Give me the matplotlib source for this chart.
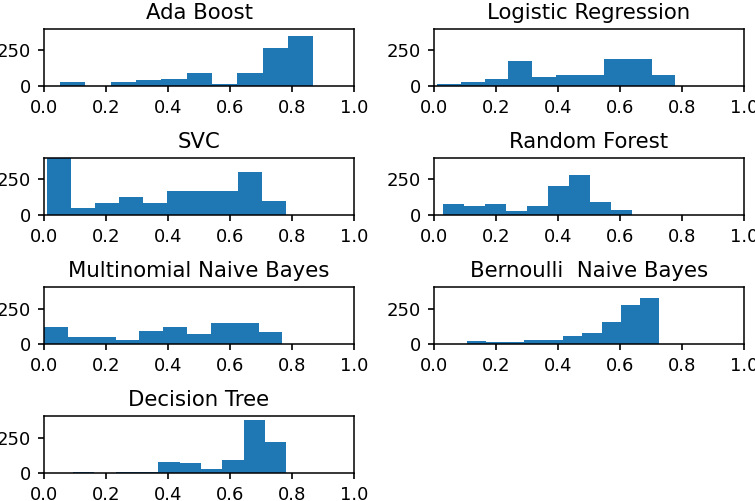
import numpy as np
import matplotlib
matplotlib.use("Agg")
import matplotlib.pyplot as plt

titles = ["Ada Boost", "Logistic Regression", "SVC", "Random Forest",
          "Multinomial Naive Bayes", "Bernoulli  Naive Bayes", "Decision Tree"]

# bin ranges (min, max of data) and bin counts
ada_range = (0.052, 0.869)
ada_counts = [28, 0, 28, 40, 52, 89, 14, 89, 266, 353]

lr_range = (0.009, 0.779)
lr_counts = [14, 31, 50, 179, 61, 75, 75, 189, 189, 75]

svc_range = (0.011, 0.781)
svc_counts = [400, 47, 85, 125, 85, 172, 172, 172, 299, 97]

rf_range = (0.028, 0.639)
rf_counts = [78, 66, 78, 28, 66, 205, 278, 89, 38]

mnb_range = (0.0, 0.769)
mnb_counts = [121, 54, 54, 31, 95, 121, 71, 147, 147, 83]

bnb_range = (0.105, 0.727)
bnb_counts = [25, 14, 14, 28, 28, 60, 77, 154, 278, 327]

dt_range = (0.094, 0.782)
dt_counts = [10, 0, 9, 9, 82, 71, 28, 94, 372, 221]

ranges = [ada_range, lr_range, svc_range, rf_range, mnb_range, bnb_range, dt_range]
counts = [ada_counts, lr_counts, svc_counts, rf_counts, mnb_counts, bnb_counts, dt_counts]

xticks = [0.0, 0.2, 0.4, 0.6, 0.8, 1.0]
yticks = [0, 250]

fig, axes = plt.subplots(4, 2, figsize=(7.55, 5.01), dpi=100)
fig.subplots_adjust(left=0.0583, right=0.9854, top=0.9421, bottom=0.0553,
                    wspace=0.258, hspace=1.26)

for ax, title, rng, cnt in zip(axes.flat, titles, ranges, counts):
    edges = np.linspace(rng[0], rng[1], len(cnt) + 1)
    centers = (edges[:-1] + edges[1:]) / 2
    ax.hist(centers, bins=edges, weights=cnt, color="#1f77b4")
    ax.set_xlim(0, 1)
    ax.set_ylim(0, 400)
    ax.set_xticks(xticks)
    ax.set_xticklabels([f"{t:.1f}" for t in xticks])
    ax.set_yticks(yticks)
    ax.set_title(title, fontsize=15.3, pad=7)
    ax.tick_params(labelsize=13, length=4.5, width=1.2, pad=5)
    for s in ax.spines.values():
        s.set_linewidth(1.1)

axes.flat[7].axis("off")

fig.savefig("out.png", dpi=100)
